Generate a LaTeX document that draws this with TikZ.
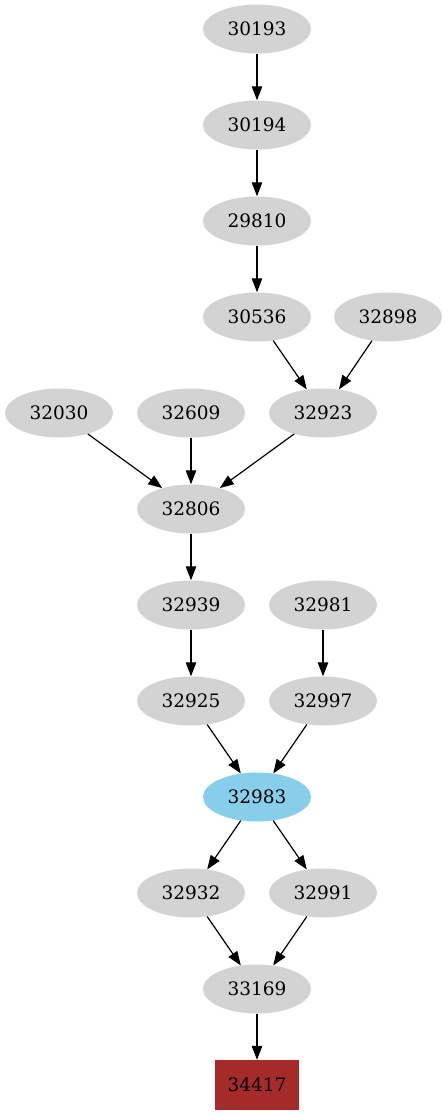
\documentclass[tikz,border=0pt]{standalone}
\usepackage{fontspec}
\setmainfont{DejaVu Serif}
\usetikzlibrary{shapes.geometric,arrows.meta}
\definecolor{nodegray}{HTML}{D3D3D3}
\definecolor{nodeblue}{HTML}{87CEEB}
\definecolor{nodebrown}{HTML}{A52A2A}
\tikzset{
  gnode/.style={ellipse, fill=nodegray, draw=none, minimum width=108pt, minimum height=49pt, inner sep=0pt, font=\fontsize{18.5}{20}\selectfont},
  hnode/.style={gnode, fill=nodeblue},
  tnode/.style={rectangle, fill=nodebrown, draw=none, minimum width=84pt, minimum height=50pt, inner sep=0pt, font=\fontsize{18.5}{20}\selectfont},
  edge/.style={draw=black, line width=1.2pt, -{Triangle[length=14pt,width=10.5pt]}}
}
\begin{document}
\begin{tikzpicture}[x=1pt,y=-1pt]
\useasboundingbox (0,0) rectangle (447,1115);
\node[gnode] (n30193) at (257,29) {30193};
\node[gnode] (n30194) at (257,125) {30194};
\node[gnode] (n29810) at (257,221) {29810};
\node[gnode] (n30536) at (257,317) {30536};
\node[gnode] (n32898) at (388,317) {32898};
\node[gnode] (n32030) at (59,413) {32030};
\node[gnode] (n32609) at (191,413) {32609};
\node[gnode] (n32923) at (323,413) {32923};
\node[gnode] (n32806) at (191,509) {32806};
\node[gnode] (n32939) at (191,605) {32939};
\node[gnode] (n32981) at (323,605) {32981};
\node[gnode] (n32925) at (191,701) {32925};
\node[gnode] (n32997) at (323,701) {32997};
\node[hnode] (n32983) at (257,797) {32983};
\node[gnode] (n32932) at (191,893) {32932};
\node[gnode] (n32991) at (323,893) {32991};
\node[gnode] (n33169) at (257,989) {33169};
\node[tnode] (n34417) at (257,1085) {34417};
\draw[edge] (n30193) -- (n30194);
\draw[edge] (n30194) -- (n29810);
\draw[edge] (n29810) -- (n30536);
\draw[edge] (n30536) -- (n32923);
\draw[edge] (n32898) -- (n32923);
\draw[edge] (n32030) -- (n32806);
\draw[edge] (n32609) -- (n32806);
\draw[edge] (n32923) -- (n32806);
\draw[edge] (n32806) -- (n32939);
\draw[edge] (n32939) -- (n32925);
\draw[edge] (n32981) -- (n32997);
\draw[edge] (n32925) -- (n32983);
\draw[edge] (n32997) -- (n32983);
\draw[edge] (n32983) -- (n32932);
\draw[edge] (n32983) -- (n32991);
\draw[edge] (n32932) -- (n33169);
\draw[edge] (n32991) -- (n33169);
\draw[edge] (n33169) -- (n34417);
\end{tikzpicture}
\end{document}
